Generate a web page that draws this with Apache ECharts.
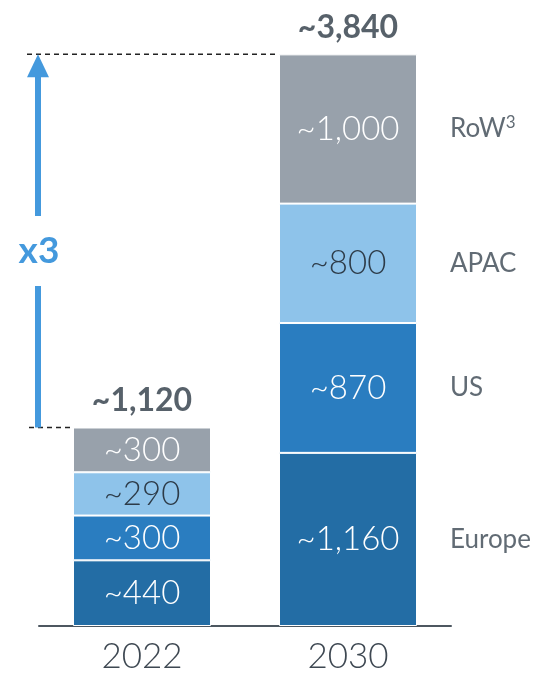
<!DOCTYPE html>
<html>
<head>
<meta charset="utf-8">
<script src="https://cdn.jsdelivr.net/npm/echarts@6/dist/echarts.min.js"></script>
<style>
  html, body { margin: 0; padding: 0; background: #fff; }
  #chart { width: 539px; height: 674px; }
</style>
</head>
<body>
<div id="chart"></div>
<script>
var years = ['2022', '2030'];
var regions = ['Europe', 'US', 'APAC', 'RoW³'];
var europe = [440, 1160];
var us = [300, 870];
var apac = [290, 800];
var row = [300, 1000];
var totals = [1120, 3840];
var growthText = 'x3';

var colors = ['#236da5', '#2a7dc0', '#8ec3ea', '#98a1ab'];
var labelColors = ['#ffffff', '#ffffff', '#2d3b48', '#ffffff'];
var FONT = 'Lato, "Open Sans", sans-serif';
var BAR_W = 138;

function fmt(v) {
    return '~' + v.toLocaleString('en-US');
}

var seriesValues = [europe, us, apac, row];
// stack tops (sum of the drawn segments)
var stackTop = years.map(function (y, i) {
    var s = 0;
    seriesValues.forEach(function (arr) { s += arr[i]; });
    return s;
});
// middle of each 2030 segment, for the side labels
var sideMid = [];
var acc = 0;
seriesValues.forEach(function (arr) {
    sideMid.push(acc + arr[1] / 2);
    acc += arr[1];
});

var myChart = echarts.init(document.getElementById('chart'));

var series = seriesValues.map(function (arr, k) {
    return {
        name: regions[k],
        type: 'bar',
        stack: 'total',
        barWidth: BAR_W,
        data: arr,
        itemStyle: { color: colors[k], borderColor: '#ffffff', borderWidth: 1 },
        label: {
            show: true,
            position: 'inside',
            color: labelColors[k],
            fontFamily: FONT,
            fontWeight: 300,
            fontSize: 33,
            formatter: function (p) { return fmt(p.value); }
        },
        silent: true
    };
});

// totals above the bars
series.push({
    type: 'scatter',
    symbolSize: 0,
    data: stackTop.map(function (v, i) { return [i, v]; }),
    label: {
        show: true,
        position: 'top',
        distance: 11,
        color: '#2d3a45',
        fontFamily: FONT,
        fontWeight: 'bold',
        fontSize: 32,
        formatter: function (p) { return fmt(totals[p.dataIndex]); }
    },
    silent: true
});

// region names to the right of the 2030 bar
series.push({
    type: 'scatter',
    symbolSize: 0,
    data: sideMid.map(function (v) { return [1, v]; }),
    label: {
        show: true,
        position: 'right',
        distance: 102,
        color: '#3a4651',
        fontFamily: FONT,
        fontSize: 26,
        formatter: function (p) {
            return regions[p.dataIndex].replace('³', '{sup|3}');
        },
        rich: {
            sup: {
                fontFamily: FONT,
                fontSize: 17,
                color: '#3a4651',
                verticalAlign: 'top',
                padding: [0, 0, 12, 0]
            }
        }
    },
    silent: true
});

var option = {
    animation: false,
    grid: { left: 39, right: 88, top: 29, bottom: 47 },
    xAxis: {
        type: 'category',
        data: years,
        axisLine: { show: true, lineStyle: { color: '#4d5760', width: 2 } },
        axisTick: { show: false },
        axisLabel: {
            color: '#3e4852',
            fontFamily: FONT,
            fontWeight: 300,
            fontSize: 35,
            margin: 13
        }
    },
    yAxis: {
        type: 'value',
        min: 0,
        max: 4000,
        show: false,
        splitLine: { show: false }
    },
    series: series
};
myChart.setOption(option);

// arrow and dashed guide lines, placed from the axis scales
var yLow = myChart.convertToPixel({ yAxisIndex: 0 }, stackTop[0]);
var yHigh = myChart.convertToPixel({ yAxisIndex: 0 }, stackTop[1]);
var x0 = myChart.convertToPixel({ xAxisIndex: 0 }, 0);
var x1 = myChart.convertToPixel({ xAxisIndex: 0 }, 1);
var ax = 38;
var blue = '#4499dd';
var headH = 23;
var midY = (yLow + yHigh) / 2 + 10;
var gap = 35;

myChart.setOption({
    graphic: [
        {
            type: 'line',
            shape: { x1: 27, y1: yHigh, x2: x1 - BAR_W / 2, y2: yHigh },
            style: { stroke: '#222', lineWidth: 1.5, lineDash: [5, 4] }
        },
        {
            type: 'line',
            shape: { x1: 29, y1: yLow, x2: x0 - BAR_W / 2, y2: yLow },
            style: { stroke: '#222', lineWidth: 1.5, lineDash: [5, 4] }
        },
        {
            type: 'line',
            shape: { x1: ax, y1: yHigh + headH - 2, x2: ax, y2: midY - gap },
            style: { stroke: blue, lineWidth: 6 }
        },
        {
            type: 'line',
            shape: { x1: ax, y1: midY + gap, x2: ax, y2: yLow },
            style: { stroke: blue, lineWidth: 6 }
        },
        {
            type: 'polygon',
            shape: { points: [[ax, yHigh], [ax - 11, yHigh + headH], [ax + 11, yHigh + headH]] },
            style: { fill: blue }
        },
        {
            type: 'text',
            x: ax + 1,
            y: midY,
            style: {
                text: growthText,
                fill: blue,
                font: 'bold 37px ' + FONT,
                textAlign: 'center',
                textVerticalAlign: 'middle'
            }
        }
    ]
});
</script>
</body>
</html>
